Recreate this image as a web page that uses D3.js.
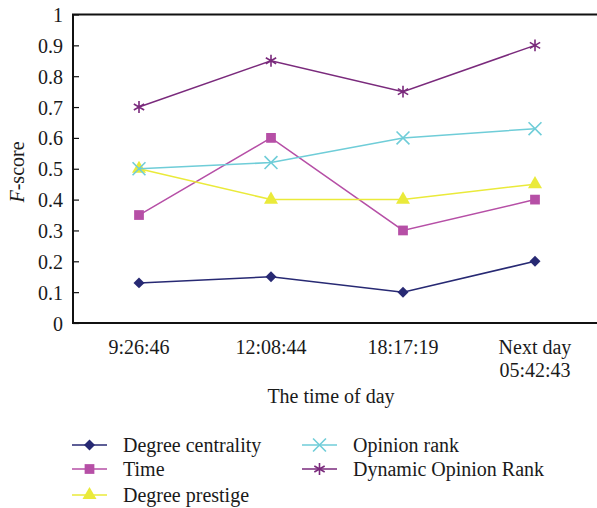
<!DOCTYPE html>
<html>
<head>
<meta charset="utf-8">
<script src="https://cdn.jsdelivr.net/npm/d3@7"></script>
<style>
  body { margin: 0; background: #fff; }
  text { font-family: "Liberation Serif", "DejaVu Serif", serif; fill: #1a1a1a; }
</style>
</head>
<body>
<div id="chart-area"></div>
<script>
// Data
var categories = ["9:26:46", "12:08:44", "18:17:19", "Next day\n05:42:43"];
var yTicks = [0, 0.1, 0.2, 0.3, 0.4, 0.5, 0.6, 0.7, 0.8, 0.9, 1];
var seriesNames = ["Degree centrality", "Time", "Degree prestige", "Opinion rank", "Dynamic Opinion Rank"];
var degreeCentrality = [0.13, 0.15, 0.10, 0.20];
var timeScore = [0.35, 0.60, 0.30, 0.40];
var degreePrestige = [0.50, 0.40, 0.40, 0.45];
var opinionRank = [0.50, 0.52, 0.60, 0.63];
var dynamicOpinionRank = [0.70, 0.85, 0.75, 0.90];

var colors = ["#272973", "#b64fa6", "#eaea3a", "#6fcdd8", "#7a2a7c"];
var symbols = ["diamond", "square", "triangle", "cross", "star"];
var seriesValues = [degreeCentrality, timeScore, degreePrestige, opinionRank, dynamicOpinionRank];

var fontSize = "20px";

var margin = { left: 73, right: -4, top: 14.5, bottom: 185 },
    W = 597, H = 508,
    width = W - margin.left - margin.right,
    height = H - margin.top - margin.bottom;

var svg = d3.select("#chart-area").append("svg")
    .attr("width", W)
    .attr("height", H);
var g = svg.append("g")
    .attr("transform", "translate(" + margin.left + "," + margin.top + ")");

// Scales
var x = d3.scaleBand().domain(categories).range([0, width]);
var y = d3.scaleLinear().domain([0, 1]).range([height, 0]);

// frame
g.append("rect")
    .attr("x", 0).attr("y", 0)
    .attr("width", width).attr("height", height)
    .attr("fill", "none")
    .attr("stroke", "#111")
    .attr("stroke-width", 2);

// Y axis (ticks inside)
var yAxis = g.append("g")
    .call(d3.axisLeft(y).tickValues(yTicks).tickSizeInner(-6).tickSizeOuter(0)
        .tickPadding(10).tickFormat(function(d){ return String(+d.toFixed(1)); }));
yAxis.select(".domain").remove();
yAxis.selectAll("line").attr("stroke", "#111").attr("stroke-width", 1.2);
yAxis.selectAll("text").attr("font-size", fontSize).attr("font-family", "Liberation Serif").attr("fill", "#1a1a1a").attr("dy", "0.35em");

// X axis labels (multi-line)
var xAxis = g.append("g").attr("transform", "translate(0," + height + ")");
categories.forEach(function(c) {
    var lines = c.split("\n");
    var t = xAxis.append("text")
        .attr("x", x(c) + x.bandwidth() / 2)
        .attr("y", 31)
        .attr("text-anchor", "middle")
        .attr("font-size", fontSize);
    lines.forEach(function(l, i) {
        t.append("tspan")
            .attr("x", x(c) + x.bandwidth() / 2)
            .attr("dy", i === 0 ? 0 : 23)
            .text(l);
    });
});

// Axis titles
svg.append("text")
    .attr("x", 331)
    .attr("y", 403)
    .attr("text-anchor", "middle")
    .attr("font-size", fontSize)
    .text("The time of day");

var yl = svg.append("text")
    .attr("transform", "translate(24," + 172 + ") rotate(-90)")
    .attr("text-anchor", "middle")
    .attr("font-size", fontSize);
yl.append("tspan").attr("font-style", "italic").text("F");
yl.append("tspan").text("-score");

// Symbols
function symbolFor(name, size) {
    if (name === "diamond") return d3.symbol().type(d3.symbolSquare).size(size)();
    if (name === "square") return d3.symbol().type(d3.symbolSquare).size(size)();
    if (name === "triangle") return d3.symbol().type(d3.symbolTriangle).size(size)();
    if (name === "cross") return d3.symbol().type(d3.symbolX).size(size)();
    return d3.symbol().type(d3.symbolAsterisk).size(size)();
}
function drawMarker(sel, i, cx, cy) {
    var s = symbols[i];
    var size = s === "diamond" ? 60 : s === "square" ? 95 : s === "triangle" ? 85 : s === "cross" ? 110 : 100;
    var p = sel.append("path")
        .attr("transform", "translate(" + cx + "," + cy + ")" + (s === "diamond" ? " rotate(45)" : ""))
        .attr("d", symbolFor(s, size));
    if (s === "cross" || s === "star") {
        p.attr("fill", "none").attr("stroke", colors[i]).attr("stroke-width", 1.6);
    } else {
        p.attr("fill", colors[i]).attr("stroke", "none");
    }
}

// Lines
var line = d3.line()
    .x(function(d, i){ return x(categories[i]) + x.bandwidth() / 2; })
    .y(function(d){ return y(d); });

seriesValues.forEach(function(vals, i) {
    var sg = g.append("g");
    sg.append("path")
        .attr("d", line(vals))
        .attr("fill", "none")
        .attr("stroke", colors[i])
        .attr("stroke-width", 1.5);
    vals.forEach(function(v, j) {
        drawMarker(sg, i, x(categories[j]) + x.bandwidth() / 2, y(v));
    });
});

// Legend
var legendPos = [[72, 445], [72, 469], [72, 495], [302, 445], [302, 469]];
var legend = svg.append("g");
seriesNames.forEach(function(n, i) {
    var lx = legendPos[i][0], ly = legendPos[i][1];
    legend.append("line")
        .attr("x1", lx).attr("x2", lx + 35)
        .attr("y1", ly).attr("y2", ly)
        .attr("stroke", colors[i]).attr("stroke-width", 1.5);
    drawMarker(legend, i, lx + 17.5, ly);
    legend.append("text")
        .attr("x", lx + 51)
        .attr("y", ly)
        .attr("dy", "0.35em")
        .attr("font-size", fontSize)
        .text(n);
});
</script>
</body>
</html>
